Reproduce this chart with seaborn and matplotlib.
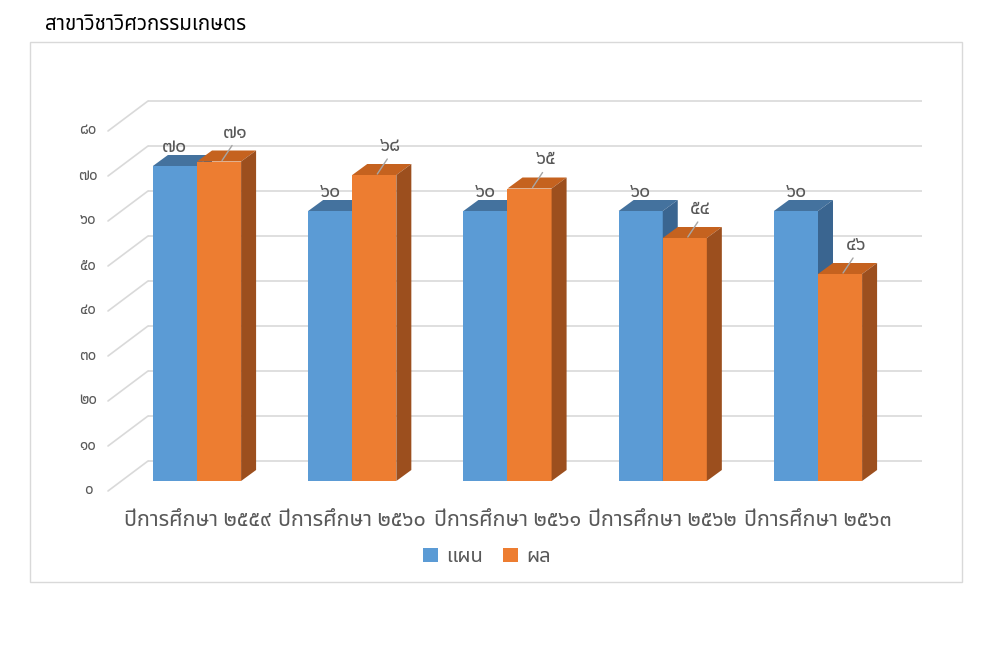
import numpy as np
import pandas as pd
import matplotlib
matplotlib.use("Agg")
import matplotlib.pyplot as plt
import seaborn as sns
from matplotlib import font_manager as fm
from matplotlib.ft2font import FT2Font
from matplotlib.patches import Polygon, Rectangle, Patch

# ---------------- data ----------------
title = "สาขาวิชาวิศวกรรมเกษตร"
years = ["ปีการศึกษา ๒๕๕๙", "ปีการศึกษา ๒๕๖๐", "ปีการศึกษา ๒๕๖๑",
         "ปีการศึกษา ๒๕๖๒", "ปีการศึกษา ๒๕๖๓"]
series = ["แผน", "ผล"]
plan = [70, 60, 60, 60, 60]
result = [71, 68, 65, 54, 46]
yticks = [0, 10, 20, 30, 40, 50, 60, 70, 80]
ytick_labels = ["๐", "๑๐", "๒๐", "๓๐", "๔๐", "๕๐", "๖๐", "๗๐", "๘๐"]

THAI_DIGITS = str.maketrans("0123456789", "๐๑๒๓๔๕๖๗๘๙")


def th(n):
    return str(n).translate(THAI_DIGITS)


# ---------------- font with Thai glyphs ----------------
def find_thai_font():
    prefs = ["Tahoma", "Leelawadee UI", "Leelawadee", "Noto Sans Thai", "Noto Sans Thai UI",
             "Noto Sans Thai Looped", "Sarabun", "Loma", "Garuda", "Waree", "Umpush",
             "Kinnari", "Norasi", "Laksaman", "FreeSans", "Noto Serif Thai"]
    found = {}
    for f in fm.fontManager.ttflist:
        if f.name in found:
            continue
        try:
            cm = FT2Font(f.fname).get_charmap()
        except Exception:
            continue
        if 0x0E01 in cm and 0x0E59 in cm:
            found[f.name] = f.fname
    for p in prefs:
        if p in found:
            return p
    if found:
        return sorted(found)[0]
    return None


sns.set_style("white")
thai = find_thai_font()
fams = ([thai] if thai else []) + ["DejaVu Sans"]
plt.rcParams["font.family"] = fams

BLUE, BLUE_TOP, BLUE_SIDE = "#5B9BD5", "#44729E", "#3A6590"
ORANGE, ORANGE_TOP, ORANGE_SIDE = "#ED7D31", "#C5621F", "#9C4F1E"
GRID = "#D9D9D9"
TXT = "#595959"

df = pd.DataFrame({
    "year": years * 2,
    "series": [series[0]] * len(years) + [series[1]] * len(years),
    "value": plan + result,
})

W, H = 1006, 659
fig = plt.figure(figsize=(W / 100, H / 100), dpi=100)
ax = fig.add_axes([0, 0, 1, 1])

sns.barplot(data=df, x="year", y="value", hue="series", order=years,
            hue_order=series, palette=[BLUE, ORANGE], width=0.568,
            saturation=1, linewidth=0, edgecolor="none", ax=ax, legend=False)

# pixel -> data scale
PX_X = 155.25          # px per category
PX_Y = 4.5             # px per unit value
X0PX, Y0PX = 197, 481  # pixel position of category 0 centre / value 0
ax.set_xlim((0 - X0PX) / PX_X, (W - X0PX) / PX_X)
ax.set_ylim((Y0PX - H) / PX_Y, Y0PX / PX_Y)
ax.axis("off")


def dx(px):
    return px / PX_X


def dy(px):
    return px / PX_Y


# back wall gridlines + diagonal floor lines + tick labels
gx0 = (148 - X0PX) / PX_X
gx1 = (922 - X0PX) / PX_X
fx = (108 - X0PX) / PX_X
for v, lab in zip(yticks, ytick_labels):
    ax.plot([gx0, gx1], [v + dy(20), v + dy(20)], color=GRID, lw=1.2, zorder=1,
            solid_capstyle="butt")
    ax.plot([fx, gx0], [v - dy(10), v + dy(20)], color=GRID, lw=1.2, zorder=1)
    ax.text((88 - X0PX) / PX_X, v - dy(10), lab, ha="center", va="center",
            fontsize=11, color=TXT)

# 3D faces
DXB, DYB = dx(15), dy(11)
face_cols = [(BLUE_TOP, BLUE_SIDE), (ORANGE_TOP, ORANGE_SIDE)]
for i, cont in enumerate(ax.containers):
    top_c, side_c = face_cols[i]
    for rect in cont:
        rect.set_zorder(2 + i * 0.2)
        x0 = rect.get_x()
        w = rect.get_width()
        h = rect.get_height()
        top = Polygon([(x0, h), (x0 + w, h), (x0 + w + DXB, h + DYB), (x0 + DXB, h + DYB)],
                      closed=True, facecolor=top_c, edgecolor="none", zorder=2.1 + i * 0.2)
        side = Polygon([(x0 + w, 0), (x0 + w + DXB, DYB), (x0 + w + DXB, h + DYB), (x0 + w, h)],
                       closed=True, facecolor=side_c, edgecolor="none", zorder=2.1 + i * 0.2)
        ax.add_patch(top)
        ax.add_patch(side)
        cx = x0 + w / 2
        if i == 0:
            ax.text(cx, h + dy(19), th(int(round(h))), ha="center", va="center",
                    fontsize=14, color=TXT, zorder=5)
        else:
            lx, ly = cx + dx(16), h + dy(29)
            ax.plot([cx + dx(3), lx - dx(3)], [h + dy(1), ly - dy(13)],
                    color="#A6A6A6", lw=1, zorder=4)
            ax.text(lx, ly, th(int(round(h))), ha="center", va="center",
                    fontsize=14, color=TXT, zorder=5)

# category labels
for k, lab in enumerate(years):
    ax.text(k, (Y0PX - 521) / PX_Y, lab, ha="center", va="center",
            fontsize=15.5, color=TXT)

# legend
handles = [Patch(facecolor=BLUE, edgecolor="none"), Patch(facecolor=ORANGE, edgecolor="none")]
leg = fig.legend(handles, series, loc="center", bbox_to_anchor=(487 / W, 1 - 557 / H),
                 ncol=2, frameon=False, fontsize=14.5, handlelength=0.75, handleheight=0.75,
                 handletextpad=0.4, columnspacing=1.0, labelcolor=TXT)

# title and chart border
fig.text(45 / W, 1 - 25 / H, title, ha="left", va="center", fontsize=14.7, color="#000000")
fig.add_artist(Rectangle((30 / W, 1 - 582 / H), 932 / W, 540 / H, transform=fig.transFigure,
                         fill=False, edgecolor=GRID, lw=1))

fig.savefig("out.png", dpi=100, facecolor="white")
